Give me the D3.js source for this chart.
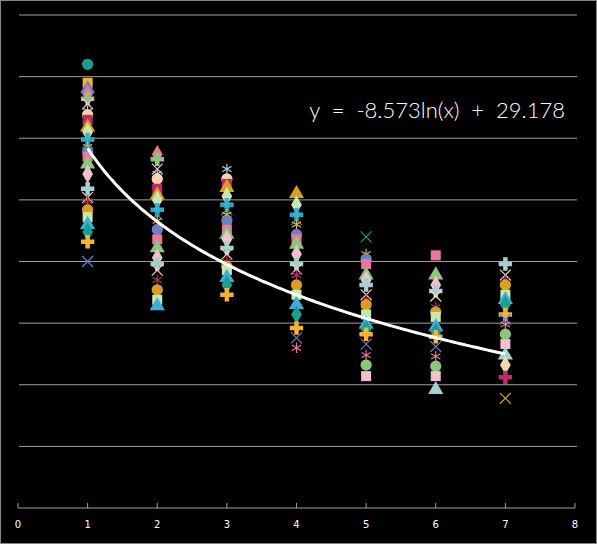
<!DOCTYPE html>
<html><head><meta charset="utf-8">
<script src="https://cdn.jsdelivr.net/npm/d3@7"></script>
<style>body{margin:0;background:#000}svg{display:block}</style>
</head><body><svg id="c" width="597" height="544"></svg>
<script>
const xTicks=[0,1,2,3,4,5,6,7,8];
const yGrid=[5,10,15,20,25,30,35,40];
const v1=[36.0,34.5,34,33.6,33.2,32.8,32.2,31.9,31.5,30.9,30.5,29.9,29.6,29.3,28.9,28.5,27.9,27.1,25.9,25.2,24.9,24.2,23.6,23.0,22.4,21.6,20.0];
const v2=[28.7,28.3,27.5,27.1,26.7,25.9,25.4,25.0,24.2,23.8,23.3,22.6,21.8,21.1,20.3,19.8,19.3,18.5,17.7,16.9,16.4];
const v3=[27.5,26.7,26.3,26.0,25.3,24.6,24.2,23.8,23.3,22.6,22.2,21.8,21.1,20.6,20.0,19.6,19.3,18.7,18.1,17.3];
const v4=[25.5,24.6,23.8,23.4,23.0,22.2,21.8,21.4,20.6,19.8,19.4,18.9,18.1,17.3,16.5,15.7,14.6,13.8,13.0];
const v5=[22.0,20.6,20.2,19.8,18.9,18.5,18.1,17.3,16.9,16.5,15.7,14.9,14.5,14.1,13.3,12.4,11.6,10.7];
const v6=[20.5,18.9,18.1,17.6,17.2,16.3,15.9,15.5,14.7,14.3,13.9,13.1,12.3,11.5,10.7,9.6];
const v7=[19.8,18.9,18.5,18.1,17.3,16.9,16.5,15.7,15.3,14.9,14.1,13.3,12.4,11.6,10.6,8.9];
const groups=[v1,v2,v3,v4,v5,v6,v7];
const colors=["#1a9e8f","#f5b335","#6a7fc4","#e8779b","#8bc77a","#f3c0d0","#a5d0d0","#f9d4b0","#c2286b","#d9a020","#c8e6b0","#3ab0d8"];
const shapes=[d3.symbolCircle,d3.symbolSquare,d3.symbolTriangle,d3.symbolDiamond,d3.symbolCross,d3.symbolTimes,d3.symbolAsterisk];
const a=-8.573,b=29.178;
const svg=d3.select("#c");
svg.append("rect").attr("x",0.5).attr("y",0.5).attr("width",596).attr("height",543).attr("fill","#000").attr("stroke","#888");
const x=d3.scaleLinear().domain([0,8]).range([18,575]);
const y=d3.scaleLinear().domain([0,40]).range([508,15]);
svg.selectAll(".g").data(yGrid).enter().append("line").attr("x1",19).attr("x2",577).attr("y1",d=>y(d)).attr("y2",d=>y(d)).attr("stroke","#a0a0a0").attr("stroke-width",1);
const ax=svg.append("g").attr("transform","translate(0,"+y(0)+")");
ax.append("line").attr("x1",x(0)).attr("x2",x(8)).attr("stroke","#a0a0a0");
xTicks.forEach(t=>{
 ax.append("line").attr("x1",x(t)).attr("x2",x(t)).attr("y1",0).attr("y2",-5).attr("stroke","#a0a0a0");
 ax.append("text").attr("x",x(t)).attr("y",20).attr("text-anchor","middle").attr("fill","#fff").attr("font-family","DejaVu Sans").attr("font-size",10).text(t);
});
groups.forEach((g,gi)=>{
 g.forEach((v,i)=>{
  const k=i+gi*3;
  const sh=shapes[k%shapes.length];
  const line=sh===d3.symbolTimes||sh===d3.symbolAsterisk;
  const p=svg.append("path").attr("d",d3.symbol().type(sh).size(line?80:100)())
   .attr("transform","translate("+x(gi+1)+","+y(v)+")");
  const c=colors[k%colors.length];
  if(line) p.attr("fill","none").attr("stroke",c).attr("stroke-width",1.2);
  else p.attr("fill",c);
 });
});
const xs=d3.range(1,7.001,0.05);
svg.append("path").datum(xs).attr("d",d3.line().x(d=>x(d)).y(d=>y(a*Math.log(d)+b)).curve(d3.curveMonotoneX))
 .attr("fill","none").attr("stroke","#fff").attr("stroke-width",3);
svg.append("text").attr("x",565).attr("y",118).attr("text-anchor","end").attr("fill","#fff").attr("font-family","Lato").attr("font-weight",300).attr("font-size",22).attr("xml:space","preserve").text("y  =  -8.573ln(x)  +  29.178");
</script></body></html>
